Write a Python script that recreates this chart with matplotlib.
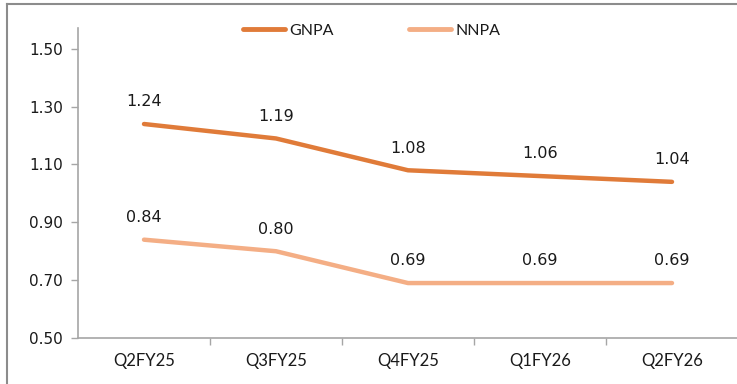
import matplotlib
matplotlib.use("Agg")
import matplotlib.pyplot as plt
from matplotlib.lines import Line2D

quarters = ["Q2FY25", "Q3FY25", "Q4FY25", "Q1FY26", "Q2FY26"]
gnpa = [1.24, 1.19, 1.08, 1.06, 1.04]
nnpa = [0.84, 0.80, 0.69, 0.69, 0.69]
y_ticks = [0.50, 0.70, 0.90, 1.10, 1.30, 1.50]

GNPA_COLOR = "#E07B39"
NNPA_COLOR = "#F4AE85"
AXIS_GREY = "#A6A6A6"
TEXT = "#1A1A1A"

W, H = 737, 384
fig = plt.figure(figsize=(W / 100, H / 100), dpi=100)

# plot area in pixel coordinates
left, right, top, bottom = 78, 738, 28, 338
ax = fig.add_axes([left / W, 1 - bottom / H, (right - left) / W, (bottom - top) / H])

x = list(range(len(quarters)))
ax.plot(x, gnpa, color=GNPA_COLOR, lw=3.2, solid_capstyle="round")
ax.plot(x, nnpa, color=NNPA_COLOR, lw=3.2, solid_capstyle="round")

for series in (gnpa, nnpa):
    for xi, v in zip(x, series):
        ax.annotate(f"{v:.2f}", (xi, v), xytext=(0, 16), textcoords="offset points",
                    ha="center", va="center", fontsize=11.5, color=TEXT,
                    family="DejaVu Sans")

ax.set_xlim(-0.5, len(quarters) - 0.5)
ax.set_ylim(0.5, 1.572)
ax.set_yticks(y_ticks)
ax.set_yticklabels([f"{t:.2f}" for t in y_ticks], fontsize=11, color=TEXT,
                   family="DejaVu Sans")
ax.set_xticks(x)
ax.set_xticklabels(quarters, fontsize=12, color=TEXT, family="Lato")
ax.set_xticks([i + 0.5 for i in x[:-1]], minor=True)

ax.tick_params(axis="y", which="major", length=5, width=1, color=AXIS_GREY, pad=6)
ax.tick_params(axis="x", which="major", length=0, pad=11)
ax.tick_params(axis="x", which="minor", length=5, width=1, color=AXIS_GREY, direction="out")

for side in ["top", "right"]:
    ax.spines[side].set_visible(False)
for side in ["left", "bottom"]:
    ax.spines[side].set_color(AXIS_GREY)
    ax.spines[side].set_linewidth(1.2)

handles = [Line2D([], [], color=GNPA_COLOR, lw=3.5, solid_capstyle="round"),
           Line2D([], [], color=NNPA_COLOR, lw=3.5, solid_capstyle="round")]
leg = fig.legend(handles, ["GNPA", "NNPA"], loc="center", bbox_to_anchor=(372 / W, 1 - 31 / H),
                 ncol=2, frameon=False, prop={"family": "Lato", "size": 11.5},
                 handlelength=2.6, handletextpad=0.3, columnspacing=4.7)
for t in leg.get_texts():
    t.set_color(TEXT)

# outer frame lines (left and top)
fig.add_artist(Line2D([7 / W, 7 / W], [0, 1 - 4 / H], transform=fig.transFigure,
                      color="#8C8C8C", lw=1.5))
fig.add_artist(Line2D([7 / W, 1], [1 - 4 / H, 1 - 4 / H], transform=fig.transFigure,
                      color="#8C8C8C", lw=1.5))

fig.savefig("out.png", dpi=100)
